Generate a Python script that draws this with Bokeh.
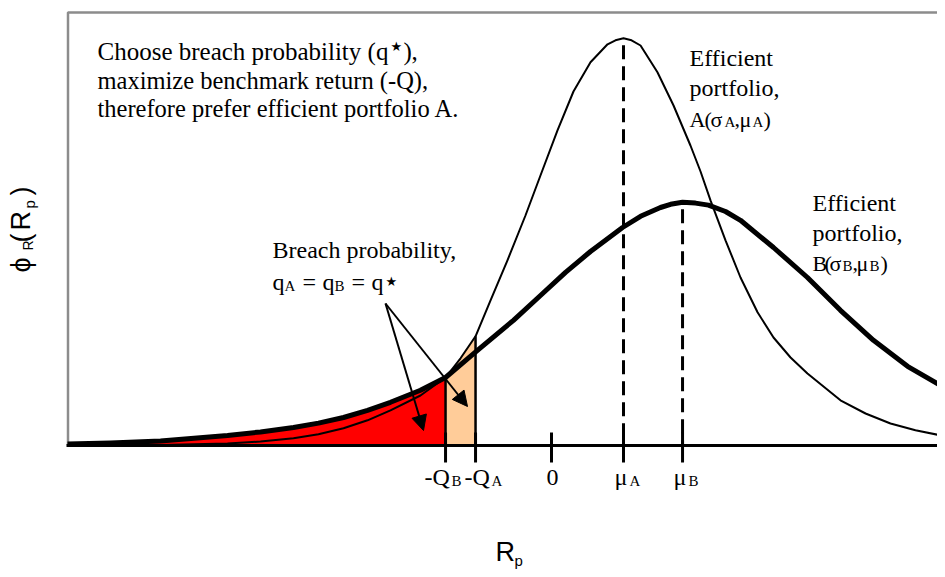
import numpy as np
from bokeh.plotting import figure
from bokeh.models import Range1d, Arrow, NormalHead, ColumnDataSource
from bokeh.core.properties import value
from bokeh.embed import file_html
from bokeh.resources import INLINE

# ---------------- data ----------------
# portfolio return R_p (%), density phi_R(R_p) (arbitrary units)
ret_A = [-40.33, -32.58, -27.0, -24.25, -21.5, -19.42, -17.33, -15.33, -13.42, -10.92,
         -8.83, -7.58, -6.33, -5.08, -3.67, -2.17, -0.92, 0.5, 1.83, 3.25,
         4.67, 5.33, 6.0, 6.67, 7.42, 8.83, 10.17, 11.58, 12.42, 13.25,
         14.5, 15.75, 17.17, 18.5, 19.92, 21.33, 24.08, 26.17, 28.25, 30.33,
         32.83]
dens_A = [0.0, 0.1, 0.5, 1.0, 1.8, 2.8, 4.3, 6.3, 8.8, 12.5,
          17.0, 21.8, 27.3, 36.3, 46.3, 57.5, 67.5, 78.8, 88.5, 95.8,
          100.3, 101.3, 101.8, 101.3, 100.0, 93.3, 85.0, 75.0, 68.5, 61.3,
          51.3, 42.0, 33.3, 27.0, 22.0, 18.0, 11.3, 8.0, 5.5, 3.8,
          2.3]

ret_B = [-40.33, -36.75, -32.58, -27.0, -24.25, -21.5, -19.42, -17.33, -15.33, -13.42,
         -10.92, -8.83, -6.17, -3.17, -0.92, 1.17, 3.25, 5.92, 7.42, 9.08,
         9.92, 10.92, 12.0, 13.08, 14.5, 15.75, 18.5, 21.33, 24.08, 26.83,
         29.67, 32.83]
dens_B = [0.4, 0.6, 1.1, 2.5, 3.4, 4.5, 5.6, 7.0, 8.8, 10.8,
          13.8, 17.0, 23.8, 31.3, 37.5, 43.3, 48.5, 54.5, 57.3, 59.5,
          60.3, 60.8, 60.6, 60.1, 58.5, 56.3, 49.5, 42.0, 33.8, 26.3,
          19.8, 14.3]

mu_A = 6.0
mu_B = 10.92
neg_Q_A = -6.33
neg_Q_B = -8.83

tick_values = [neg_Q_B, neg_Q_A, 0.0, mu_A, mu_B]
tick_main = ["-Q", "-Q", "0", "μ", "μ"]
tick_sub = ["B", "A", "", "A", "B"]

# ---------------- layout helpers (picture pixel -> data) ----------------
PX0, PXU = 551.0, 12.0
PY0, PYU = 445.0, 4.0
def X(px):
    return (px - PX0) / PXU
def Y(py):
    return (PY0 - py) / PYU

W, H = 937, 569
p = figure(width=W, height=H,
           x_range=Range1d(X(0), X(W)), y_range=Range1d(Y(H), Y(0)),
           output_backend="svg", toolbar_location=None,
           x_axis_location=None, y_axis_location=None,
           min_border=0, outline_line_color=None,
           background_fill_color="white", border_fill_color="white")
p.xgrid.visible = False
p.ygrid.visible = False

rA, dA = np.array(ret_A), np.array(dens_A)
rB, dB = np.array(ret_B), np.array(dens_B)

# frame (grey top + left border)
frame_left = X(67.5)
frame_top = Y(12)
p.line([frame_left, frame_left, X(960)], [0, frame_top, frame_top],
       line_color="#8c8c8c", line_width=2.5)

# shaded breach areas
mB = rB <= neg_Q_B + 1e-9
p.varea(x=rB[mB], y1=0, y2=dB[mB], fill_color="#ff0000")
mA = (rA >= neg_Q_B - 1e-9) & (rA <= neg_Q_A + 1e-9)
p.varea(x=rA[mA], y1=0, y2=dA[mA], fill_color="#ffcc99")

# vertical boundary lines of the shaded areas
hB = float(np.interp(neg_Q_B, rB, dB))
hA = float(np.interp(neg_Q_A, rA, dA))
p.segment(x0=[neg_Q_B, neg_Q_A], y0=[0, 0], x1=[neg_Q_B, neg_Q_A], y1=[hB, hA],
          line_color="black", line_width=2.5)

# curves
p.line(rA, dA, line_color="black", line_width=2, line_join="round")
p.line(rB, dB, line_color="black", line_width=5, line_join="round")

# x axis line and ticks
p.segment(x0=[X(66)], y0=[0], x1=[X(960)], y1=[0], line_color="black", line_width=3)
p.segment(x0=tick_values, y0=Y(462), x1=tick_values, y1=Y(432),
          line_color="black", line_width=3)

# dashed mean lines
peakA = float(np.interp(mu_A, rA, dA))
peakB = float(np.interp(mu_B, rB, dB))
for m, pk in ((mu_A, peakA), (mu_B, peakB)):
    p.line([m, m], [pk, 0], line_color="black", line_width=3,
           line_dash="14 7", line_dash_offset=14)

# ---------------- texts ----------------
K = 0.42  # baseline correction of the renderer (fraction of font size)

def put(pieces, font, angle=0.0):
    if angle == 0.0:
        xs = [X(a[1]) for a in pieces]
        ys = [Y(a[2] - K * a[3]) for a in pieces]
    else:
        xs = [X(a[1] - K * a[3]) for a in pieces]
        ys = [Y(a[2]) for a in pieces]
    src = ColumnDataSource(dict(
        x=xs, y=ys, text=[a[0] for a in pieces], size=[f"{a[3]}px" for a in pieces]))
    p.text(x="x", y="y", text="text", text_font_size="size", source=src,
           text_font=value(font), text_baseline="alphabetic", text_align="left",
           angle=angle, text_color="black")

serif = [
    ("Choose breach probability (q", 97, 61, 25),
    (")", 403, 61, 25), (",", 411, 61, 25),
    ("maximize benchmark return (-Q),", 97, 90, 24.5),
    ("therefore prefer efficient portfolio A.", 97, 118, 24.5),
    ("Efficient", 689, 68, 24), ("portfolio,", 689, 98, 24),
    ("A", 689, 128, 22), ("(", 704, 128, 22), ("σ", 710, 128, 22), ("A", 724, 128, 15),
    (",", 734, 128, 22), ("μ", 739, 128, 22), ("A", 752, 128, 15), (")", 763, 128, 22),
    ("Efficient", 812, 213, 24), ("portfolio,", 812, 243, 24),
    ("B", 812, 272, 22), ("(", 824, 272, 22), ("σ", 829, 272, 22), ("B", 842, 272, 15),
    (",", 852, 272, 22), ("μ", 856, 272, 22), ("B", 869, 272, 15), (")", 880, 272, 22),
    ("Breach probability,", 272, 260, 24),
    ("q", 272, 292, 24), ("A", 284, 292, 15), ("=", 302, 292, 24),
    ("q", 322, 292, 24), ("B", 334, 292, 15), ("=", 351, 292, 24),
    ("q", 371, 292, 24),
]
# tick labels built from the tick arrays
main_off = [-21, -11, -5, -9, -9]
sub_off = [6, 16, 0, 6, 6]
for t, lab, sub, mo, so in zip(tick_values, tick_main, tick_sub, main_off, sub_off):
    tpx = PX0 + t * PXU
    serif.append((lab, tpx + mo, 487, 24))
    if sub:
        serif.append((sub, tpx + so, 487, 15))
put(serif, "Liberation Serif")

put([("★", 390, 51, 13), ("★", 385, 286, 13)], "DejaVu Sans")

put([("R", 495, 563, 27), ("p", 514, 566, 15)], "Liberation Sans")
put([("ϕ", 32, 272, 27), ("R", 33, 250, 14), ("(", 32, 242, 27),
     ("R", 32, 230, 27), ("p", 35, 208, 15), (")", 32, 195, 27)],
    "Liberation Sans", angle=np.pi / 2)

# arrows
for ex, ey in ((423, 430), (467, 406)):
    p.add_layout(Arrow(end=NormalHead(size=15, fill_color="black", line_color="black",
                                      line_width=1),
                       x_start=X(385), y_start=Y(303), x_end=X(ex), y_end=Y(ey),
                       line_color="black", line_width=2))

open("out.html", "w").write(file_html(p, INLINE, title="chart"))
